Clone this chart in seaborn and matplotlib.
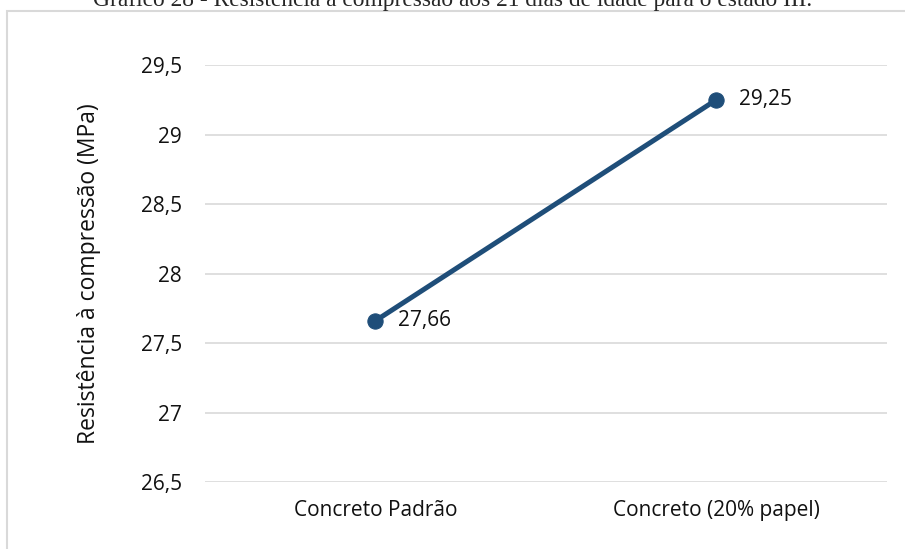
import matplotlib
matplotlib.use('Agg')
import matplotlib.pyplot as plt
from matplotlib.patches import Rectangle
import seaborn as sns
import pandas as pd

categorias = ['Concreto Padrão', 'Concreto (20% papel)']
resistencia = [27.66, 29.25]
rotulos = ['27,66', '29,25']
ticks_y = [26.5, 27, 27.5, 28, 28.5, 29, 29.5]
ticks_y_txt = ['26,5', '27', '27,5', '28', '28,5', '29', '29,5']

df = pd.DataFrame({'categoria': categorias, 'resistencia': resistencia})

sns.set_style('white')
plt.rcParams['font.family'] = ['Open Sans', 'DejaVu Sans']

fig = plt.figure(figsize=(9.05, 5.49), dpi=100)
ax = fig.add_axes([0.2265, 0.122, 0.7535, 0.7596])

azul = '#1F4E79'
sns.lineplot(data=df, x='categoria', y='resistencia', ax=ax, color=azul,
             linewidth=3.6, marker='o', markersize=11, markeredgecolor=azul)

for i, (v, t) in enumerate(zip(resistencia, rotulos)):
    ax.annotate(t, (i, v), xytext=(16.5, 0), textcoords='offset points',
                ha='left', va='center', fontsize=15, color='#111111')

ax.set_xlim(-0.5, 1.5)
ax.set_ylim(26.5, 29.5)
ax.set_yticks(ticks_y)
ax.set_yticklabels(ticks_y_txt)
ax.grid(axis='y', color='#d9d9d9', linewidth=1.2)
ax.set_axisbelow(True)
for s in ax.spines.values():
    s.set_visible(False)
ax.tick_params(axis='both', length=0, labelsize=15, colors='#111111')
ax.tick_params(axis='y', pad=16.5)
ax.tick_params(axis='x', pad=13)
ax.set_xlabel('')
ax.set_ylabel('Resistência à compressão (MPa)', fontsize=16.5, color='#111111')
ax.yaxis.set_label_coords(-0.1525, 0.5)

# moldura da área do gráfico
fig.patches.append(Rectangle((7 / 905, -0.1), 1.1, 1 - 11 / 549 + 0.1,
                             transform=fig.transFigure, fill=False,
                             edgecolor='#d9d9d9', linewidth=1.5))

fig.text(0.5, 1 - 6 / 549, 'Gráfico 28 - Resistência à compressão aos 21 dias de idade para o estado III.',
         ha='center', va='baseline', fontsize=16.8, family=['Liberation Serif', 'DejaVu Serif'])

fig.savefig('out.png', dpi=100)
